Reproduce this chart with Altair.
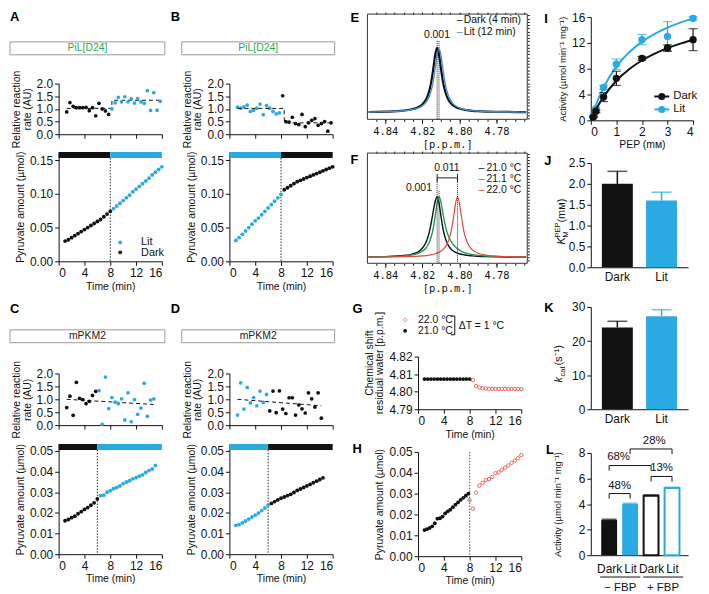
import altair as alt
import pandas as pd

FONT = "Liberation Sans"
MONO = "DejaVu Sans Mono"
BLACK = "#111111"
BLUE = "#2aaae2"
GREEN_TXT = "#33a852"
LIT_LINE = "#4d8fd6"
F_GREEN = "#1f9a57"
F_RED = "#e4463d"
G_RED = "#e85a52"
ONE = pd.DataFrame({"k": [0]})

# ================= DATA =================
R_1_8 = [1.25, 1.75, 2.25, 2.75, 3.25, 3.75, 4.25, 4.75, 5.25, 5.75, 6.25, 6.75, 7.25, 7.75]
R_8_16 = [8.25, 8.75, 9.25, 9.75, 10.25, 10.75, 11.25, 11.75, 12.25, 12.75, 13.25, 13.75, 14.25, 14.75, 15.25, 15.75]
R_1_6 = [1.25, 1.75, 2.25, 2.75, 3.25, 3.75, 4.25, 4.75, 5.25, 5.75]
R_6_15 = [6.25, 6.75, 7.25, 7.75, 8.25, 8.75, 9.25, 9.75, 10.25, 10.75, 11.25, 11.75, 12.25, 12.75, 13.25, 13.75, 14.25, 14.75]
R_6_14 = [6.25, 6.75, 7.25, 7.75, 8.25, 8.75, 9.25, 9.75, 10.25, 10.75, 11.25, 11.75, 12.25, 12.75, 13.25, 13.75, 14.25]
T_1_8 = [1.0, 1.5, 2.0, 2.5, 3.0, 3.5, 4.0, 4.5, 5.0, 5.5, 6.0, 6.5, 7.0, 7.5, 8.0]
T_8_16 = [8.5, 9.0, 9.5, 10.0, 10.5, 11.0, 11.5, 12.0, 12.5, 13.0, 13.5, 14.0, 14.5, 15.0, 15.5, 16.0]
T_1_6 = [1.0, 1.5, 2.0, 2.5, 3.0, 3.5, 4.0, 4.5, 5.0, 5.5, 6.0]
T_6_15 = [6.5, 7.0, 7.5, 8.0, 8.5, 9.0, 9.5, 10.0, 10.5, 11.0, 11.5, 12.0, 12.5, 13.0, 13.5, 14.0, 14.5, 15.0]
T_6_14 = [6.5, 7.0, 7.5, 8.0, 8.5, 9.0, 9.5, 10.0, 10.5, 11.0, 11.5, 12.0, 12.5, 13.0, 13.5, 14.0, 14.5]

# A : PiL[D24], dark then lit
a_rate_dark = [0.88, 1.25, 1.10, 1.05, 1.05, 1.05, 1.06, 0.93, 1.05, 0.73, 1.22, 1.00, 0.92, 0.78]
a_rate_lit = [1.00, 1.24, 1.46, 1.28, 1.48, 1.28, 1.40, 1.23, 1.41, 1.28, 1.22, 1.72, 0.94, 1.64, 0.95, 1.30]
a_fit_t = [1.25, 8.25, 8.25, 16.0]
a_fit_v = [1.02, 1.02, 1.34, 1.34]
a_pyr_dark = [0.030, 0.032, 0.035, 0.038, 0.041, 0.044, 0.047, 0.050, 0.053, 0.056, 0.059, 0.062, 0.066, 0.070, 0.074]
a_pyr_lit = [0.078, 0.082, 0.086, 0.090, 0.094, 0.098, 0.103, 0.107, 0.111, 0.115, 0.119, 0.123, 0.128, 0.132, 0.136, 0.140]
# B : PiL[D24], lit then dark
b_rate_lit = [1.07, 1.03, 1.08, 1.15, 0.90, 0.94, 1.03, 1.19, 0.77, 1.13, 1.03, 0.90, 0.80, 0.84]
b_rate_dark = [1.52, 0.50, 0.48, 0.67, 0.42, 0.38, 0.78, 0.30, 0.45, 0.55, 0.62, 0.35, 0.42, 0.50, 0.12, 0.45]
b_fit_t = [1.25, 8.5, 8.5, 16.0]
b_fit_v = [1.02, 1.02, 0.45, 0.45]
b_pyr_lit = [0.031, 0.035, 0.040, 0.045, 0.050, 0.055, 0.060, 0.064, 0.069, 0.074, 0.079, 0.084, 0.089, 0.094, 0.099]
b_pyr_dark = [0.106, 0.109, 0.112, 0.115, 0.118, 0.120, 0.122, 0.124, 0.126, 0.128, 0.130, 0.132, 0.134, 0.136, 0.138, 0.140]
# C : mPKM2, dark then lit
c_rate_dark = [0.68, 1.12, 0.38, 1.66, 1.04, 0.99, 0.83, 0.92, 1.15, 1.31]
c_rate_lit = [1.34, 0.03, 1.86, 0.64, 1.07, 0.89, 0.83, 1.02, 0.20, 1.25, 0.13, 0.99, 0.42, 0.66, 1.62, 0.34, 0.97, 1.02]
c_fit_t = [1.25, 14.75]
c_fit_v = [1.0, 0.8]
c_pyr_dark = [0.0162, 0.0168, 0.0177, 0.0184, 0.0196, 0.0206, 0.0217, 0.0226, 0.0237, 0.0249, 0.0268]
c_pyr_lit = [0.0284, 0.0286, 0.0300, 0.0308, 0.0317, 0.0323, 0.0331, 0.0342, 0.0350, 0.0356, 0.0365, 0.0371, 0.0378, 0.0384, 0.0396, 0.0405, 0.0413, 0.0430]
# D : mPKM2, lit then dark
d_rate_lit = [0.39, 1.64, 0.62, 1.46, 0.86, 1.07, 0.75, 1.32, 0.88, 1.19]
d_rate_dark = [0.55, 1.32, 0.48, 1.33, 0.62, 0.45, 1.06, 1.06, 0.39, 0.78, 0.63, 0.47, 1.25, 1.02, 0.70, 1.25, 0.27]
d_fit_t = [1.25, 14.25]
d_fit_v = [1.0, 0.75]
d_pyr_lit = [0.0140, 0.0143, 0.0152, 0.0161, 0.0170, 0.0180, 0.0189, 0.0199, 0.0211, 0.0224, 0.0238]
d_pyr_dark = [0.0246, 0.0255, 0.0263, 0.0271, 0.0277, 0.0284, 0.0290, 0.0299, 0.0309, 0.0316, 0.0323, 0.0331, 0.0338, 0.0346, 0.0354, 0.0362, 0.0370]

# E / F : NMR spectra of residual water
ppm = [4.849, 4.840, 4.830, 4.825, 4.822, 4.820, 4.818, 4.817, 4.816, 4.815, 4.814, 4.813,
       4.812, 4.811, 4.810, 4.809, 4.808, 4.807, 4.806, 4.805, 4.804, 4.803, 4.802, 4.801,
       4.800, 4.799, 4.798, 4.797, 4.796, 4.795, 4.793, 4.790, 4.785, 4.780, 4.770, 4.764]
e_dark = [0.006, 0.011, 0.027, 0.051, 0.083, 0.123, 0.200, 0.265, 0.360, 0.500, 0.692, 0.900,
          1.000, 0.900, 0.692, 0.500, 0.360, 0.265, 0.200, 0.155, 0.123, 0.100, 0.083, 0.069,
          0.059, 0.051, 0.044, 0.038, 0.034, 0.030, 0.024, 0.018, 0.012, 0.009, 0.005, 0.004]
e_lit = [0.006, 0.011, 0.024, 0.044, 0.069, 0.100, 0.155, 0.200, 0.265, 0.360, 0.500, 0.692,
         0.900, 0.980, 0.900, 0.692, 0.500, 0.360, 0.265, 0.200, 0.155, 0.123, 0.100, 0.083,
         0.069, 0.059, 0.051, 0.044, 0.038, 0.034, 0.027, 0.020, 0.013, 0.009, 0.005, 0.004]
f_210 = [0.006, 0.012, 0.030, 0.058, 0.095, 0.150, 0.250, 0.330, 0.450, 0.600, 0.780, 0.930,
         1.000, 0.900, 0.692, 0.500, 0.360, 0.265, 0.200, 0.155, 0.123, 0.100, 0.083, 0.069,
         0.059, 0.051, 0.044, 0.038, 0.034, 0.030, 0.024, 0.018, 0.012, 0.009, 0.005, 0.004]
f_211 = [0.006, 0.011, 0.024, 0.044, 0.069, 0.100, 0.155, 0.200, 0.265, 0.360, 0.500, 0.692,
         0.900, 1.000, 0.920, 0.750, 0.580, 0.450, 0.360, 0.290, 0.240, 0.200, 0.170, 0.140,
         0.120, 0.100, 0.085, 0.075, 0.065, 0.057, 0.045, 0.033, 0.022, 0.016, 0.010, 0.008]
f_220 = [0.004, 0.006, 0.011, 0.015, 0.020, 0.024, 0.030, 0.034, 0.038, 0.044, 0.051, 0.059,
         0.069, 0.083, 0.100, 0.123, 0.155, 0.200, 0.265, 0.360, 0.500, 0.692, 0.900, 1.000,
         0.900, 0.692, 0.500, 0.360, 0.265, 0.200, 0.123, 0.069, 0.034, 0.020, 0.009, 0.007]

# G : chemical shift of residual water
g_t_21 = [1.0, 1.5, 2.0, 2.5, 3.0, 3.5, 4.0, 4.5, 5.0, 5.5, 6.0, 6.5, 7.0, 7.5, 8.0]
g_21 = [4.8072] * 15
g_t_22 = [8.5, 9.0, 9.5, 10.0, 10.5, 11.0, 11.5, 12.0, 12.5, 13.0, 13.5, 14.0, 14.5, 15.0, 15.5, 16.0]
g_22 = [4.8066, 4.8032, 4.8024, 4.8020, 4.8018, 4.8017, 4.8016, 4.8016, 4.8015, 4.8015,
        4.8015, 4.8015, 4.8015, 4.8015, 4.8015, 4.8015]
# H : pyruvate with temperature jump
h_t_21 = [1.0, 1.4, 1.8, 2.2, 2.6, 3.0, 3.4, 3.8, 4.2, 4.6, 5.0, 5.4, 5.8, 6.2, 6.6, 7.0, 7.4, 7.8]
h_21 = [0.0125, 0.0130, 0.0135, 0.0143, 0.0158, 0.0180, 0.0182, 0.0190, 0.0205, 0.0215, 0.0223,
        0.0235, 0.0247, 0.0258, 0.0270, 0.0280, 0.0290, 0.0300]
h_t_22 = [8.0, 8.5, 9.0, 9.5, 10.0, 10.5, 11.0, 11.5, 12.0, 12.5, 13.0, 13.5, 14.0, 14.5, 15.0, 15.5, 16.0]
h_22 = [0.0268, 0.0228, 0.0305, 0.0338, 0.0352, 0.0365, 0.0370, 0.0380, 0.0398, 0.0402, 0.0415,
        0.0425, 0.0435, 0.0448, 0.0458, 0.0470, 0.0485]

# I : Michaelis-Menten
i_pep = [0.1, 0.2, 0.5, 1.0, 2.0, 3.0, 4.0]
i_dark = [0.5, 1.4, 3.6, 6.5, 9.6, 11.2, 12.5]
i_dark_err = [0.1, 0.2, 0.7, 1.1, 0.3, 0.5, 1.7]
i_lit = [0.7, 1.8, 5.1, 8.7, 12.5, 13.0, 15.8]
i_lit_err = [0.1, 0.2, 0.3, 0.8, 0.8, 2.3, 0.3]
fit_pep = [0.0, 0.25, 0.5, 1.0, 1.5, 2.0, 2.5, 3.0, 3.5, 4.0]
fit_dark = [0.0, 2.02, 3.65, 6.13, 7.92, 9.27, 10.33, 11.18, 11.88, 12.46]
fit_lit = [0.0, 2.88, 5.11, 8.33, 10.55, 12.16, 13.39, 14.36, 15.14, 15.79]
# J, K
cond = ["Dark", "Lit"]
km_val = [2.0, 1.6]
km_err = [0.3, 0.2]
kcat_val = [24.0, 27.3]
kcat_err = [1.8, 1.9]
# L
l_pos = [1, 2, 3, 4]
l_cond = ["Dark", "Lit", "Dark", "Lit"]
l_fbp = ["-", "-", "+", "+"]
l_val = [2.75, 4.0, 4.65, 5.25]
l_err = [0.06, 0.06, 0.07, 0.06]
l_br_x0 = [1, 1, 3, 2]
l_br_x1 = [2, 3, 4, 4]
l_br_y = [4.82, 7.01, 6.16, 8.31]
l_br_txt = ["48%", "68%", "13%", "28%"]
l_br_tx = [1.5, 1.45, 3.5, 3.15]
l_br_ty = [5.38, 7.7, 6.83, 8.95]

# ================= HELPERS =================
def bounds(col, ext, px, py):
    return alt.Chart(ONE).mark_rect(opacity=0, fill="white").encode(
        x=alt.value(col[0] - px), x2=alt.value(col[1] - px),
        y=alt.value(ext[0] - py), y2=alt.value(ext[1] - py))


def label(s, x, y, size=11, color="#111", align="left", baseline="middle",
          weight="normal", angle=None, font=FONT, style="normal"):
    kw = dict(text=s, align=align, baseline=baseline, fontSize=size, color=color,
              fontWeight=weight, font=font, fontStyle=style)
    if angle is not None:
        kw["angle"] = angle
    return alt.Chart(ONE).mark_text(**kw).encode(x=alt.value(x), y=alt.value(y))


def outline(x0, x1, y0, y1, color="#9a9a9a", width=1):
    return alt.Chart(ONE).mark_rect(fill="white", fillOpacity=0, stroke=color, strokeWidth=width).encode(
        x=alt.value(x0), x2=alt.value(x1), y=alt.value(y0), y2=alt.value(y1))


def hline(x0, x1, y, color="#111", width=1):
    return alt.Chart(ONE).mark_rule(color=color, strokeWidth=width).encode(
        x=alt.value(x0), x2=alt.value(x1), y=alt.value(y))


def vline(x, y0, y1, color="#111", width=1):
    return alt.Chart(ONE).mark_rule(color=color, strokeWidth=width).encode(
        x=alt.value(x), y=alt.value(y0), y2=alt.value(y1))


def dot(x, y, color, size=15):
    return alt.Chart(ONE).mark_circle(color=color, size=size, opacity=1).encode(
        x=alt.value(x), y=alt.value(y))


def letter(s, x, y):
    return label(s, x, y, size=13, weight="bold", color="#000")


def spacer(col, px, W):
    return alt.layer(bounds(col, (8, 9), px, 8)).properties(width=W, height=1)


def indep(layer):
    return layer.resolve_axis(x="independent", y="independent")


COL1, COL2, COL3, COL4 = (8, 170), (170, 345), (345, 540), (540, 705)
TIME_TICKS = [0, 4, 8, 12, 16]


def rate_panel(px, py, col, ext, H, let, box, box_text, box_color,
               t1, v1, c1, t2, v2, c2, ft, fv):
    xs = alt.Scale(domain=[0, 16], nice=False, zero=False)
    ys = alt.Scale(domain=[0, 2], nice=False, zero=False)
    d1 = pd.DataFrame({"t": t1, "v": v1})
    d2 = pd.DataFrame({"t": t2, "v": v2})
    dfit = pd.DataFrame({"t": ft, "v": fv, "i": list(range(len(ft)))})
    p1 = alt.Chart(d1).mark_circle(size=14, opacity=1, color=c1).encode(
        x=alt.X("t:Q", scale=xs, axis=alt.Axis(values=TIME_TICKS, labels=False, title=None)),
        y=alt.Y("v:Q", scale=ys, axis=alt.Axis(values=[0, 0.5, 1, 1.5, 2], format=".1f",
                                                title=["Relative reaction", "rate (AU)"],
                                                titleLineHeight=11, titlePadding=4)))
    p2 = alt.Chart(d2).mark_circle(size=14, opacity=1, color=c2).encode(
        x=alt.X("t:Q", scale=xs, axis=None), y=alt.Y("v:Q", scale=ys, axis=None))
    fit = alt.Chart(dfit).mark_line(color=BLACK, strokeDash=[4, 3], strokeWidth=1).encode(
        x=alt.X("t:Q", scale=xs, axis=None), y=alt.Y("v:Q", scale=ys, axis=None),
        order=alt.Order("i:Q"))
    bx0, bx1, by0, by1 = box[0] - px, box[1] - px, box[2] - py, box[3] - py
    layers = [bounds(col, ext, px, py), p1, fit, p2,
              letter(let, col[0] - px + 2, 12 - py if py < 200 else 306 - py),
              outline(bx0, bx1, by0, by1),
              label(box_text, (bx0 + bx1) / 2, (by0 + by1) / 2, size=10.5, color=box_color, align="center")]
    return indep(alt.layer(*layers)).properties(width=104, height=H)


def pyr_panel(px, py, col, ext, H, ymax, yvals, switch, bars,
              t1, v1, c1, t2, v2, c2, legend=False):
    xs = alt.Scale(domain=[0, 16], nice=False, zero=False)
    ys = alt.Scale(domain=[0, ymax], nice=False, zero=False)
    dbar = pd.DataFrame(bars, columns=["t0", "t1", "cond"])
    bar = alt.Chart(dbar).mark_rect().encode(
        x=alt.X("t0:Q", scale=xs, axis=alt.Axis(values=TIME_TICKS, title="Time (min)", titlePadding=3)),
        x2="t1:Q", y=alt.value(0), y2=alt.value(6),
        color=alt.Color("cond:N", scale=alt.Scale(domain=["Dark", "Lit"], range=[BLACK, BLUE]), legend=None))
    rule = alt.Chart(pd.DataFrame({"s": [switch]})).mark_rule(
        color=BLACK, strokeDash=[1.5, 1.5], strokeWidth=0.9).encode(
        x=alt.X("s:Q", scale=xs, axis=None), y=alt.value(6), y2=alt.value(H))
    d1 = pd.DataFrame({"t": t1, "v": v1})
    d2 = pd.DataFrame({"t": t2, "v": v2})
    p1 = alt.Chart(d1).mark_circle(size=15, opacity=1, color=c1).encode(
        x=alt.X("t:Q", scale=xs, axis=None),
        y=alt.Y("v:Q", scale=ys, axis=alt.Axis(values=yvals, format=".2f",
                                                title="Pyruvate amount (µmol)", titlePadding=4)))
    p2 = alt.Chart(d2).mark_circle(size=15, opacity=1, color=c2).encode(
        x=alt.X("t:Q", scale=xs, axis=None), y=alt.Y("v:Q", scale=ys, axis=None))
    layers = [bounds(col, ext, px, py), bar, rule, p1, p2]
    if legend:
        layers += [dot(62, 91, BLUE), label("Lit", 83, 91, size=11),
                   dot(62, 101, BLACK), label("Dark", 83, 102, size=11)]
    return indep(alt.layer(*layers)).properties(width=104, height=H)


# ================= COLUMN 1 & 2 =================
a_top = rate_panel(59, 79, COL1, (9, 145), 51, "A", (10, 166, 37, 50), "PiL[D24]", GREEN_TXT,
                   R_1_8, a_rate_dark, BLACK, R_8_16, a_rate_lit, BLUE, a_fit_t, a_fit_v)
a_bot = pyr_panel(59, 148, COL1, (145, 296), 110, 0.1618, [0, 0.05, 0.10, 0.15], 8,
                  [(0, 8, "Dark"), (8, 16, "Lit")],
                  T_1_8, a_pyr_dark, BLACK, T_8_16, a_pyr_lit, BLUE, legend=True)
c_top = rate_panel(59, 371, COL1, (296, 438), 52, "C", (10, 166, 327, 340), "mPKM2", "#222",
                   R_1_6, c_rate_dark, BLACK, R_6_15, c_rate_lit, BLUE, c_fit_t, c_fit_v)
c_bot = pyr_panel(59, 442, COL1, (438, 594), 111, 0.0534, [0, 0.01, 0.02, 0.03, 0.04, 0.05], 6,
                  [(0, 6, "Dark"), (6, 16, "Lit")],
                  T_1_6, c_pyr_dark, BLACK, T_6_15, c_pyr_lit, BLUE)

b_top = rate_panel(231, 79, COL2, (9, 145), 51, "B", (183, 337, 37, 50), "PiL[D24]", GREEN_TXT,
                   R_1_8, b_rate_lit, BLUE, R_8_16, b_rate_dark, BLACK, b_fit_t, b_fit_v)
b_bot = pyr_panel(231, 148, COL2, (145, 296), 110, 0.1618, [0, 0.05, 0.10, 0.15], 8,
                  [(0, 8, "Lit"), (8, 16, "Dark")],
                  T_1_8, b_pyr_lit, BLUE, T_8_16, b_pyr_dark, BLACK)
d_top = rate_panel(231, 371, COL2, (296, 438), 52, "D", (183, 337, 327, 340), "mPKM2", "#222",
                   R_1_6, d_rate_lit, BLUE, R_6_14, d_rate_dark, BLACK, d_fit_t, d_fit_v)
d_bot = pyr_panel(231, 442, COL2, (438, 594), 111, 0.0534, [0, 0.01, 0.02, 0.03, 0.04, 0.05], 6,
                  [(0, 6, "Lit"), (6, 16, "Dark")],
                  T_1_6, d_pyr_lit, BLUE, T_6_14, d_pyr_dark, BLACK)

# ================= COLUMN 3 =================
SX = alt.Scale(domain=[4.7634, 4.8496], reverse=True, nice=False, zero=False)


def spec_panel(px, py, ext, H, ydom, curves, extra):
    ys = alt.Scale(domain=ydom, nice=False, zero=False)
    base = pd.DataFrame({"ppm": ppm, "i": curves[0][0]})
    ax_main = alt.Chart(base).mark_line(opacity=0).encode(
        x=alt.X("ppm:Q", scale=SX, axis=alt.Axis(orient="bottom", values=[4.84, 4.82, 4.80, 4.78],
                                                 format=".2f", title="[p.p.m.]", labelFont=MONO,
                                                 titleFont=MONO, labelFontSize=10.5, titleFontSize=10.5,
                                                 domain=False, tickSize=4, labelPadding=3, titlePadding=3)),
        y=alt.Y("i:Q", scale=ys, axis=alt.Axis(orient="right", labels=False, title=None,
                                               tickCount=30, tickSize=2, domain=False)))
    ax_top = alt.Chart(base).mark_line(opacity=0).encode(
        x=alt.X("ppm:Q", scale=SX, axis=alt.Axis(orient="top", labels=False, title=None,
                                                 tickCount=18, tickSize=2, domain=False)),
        y=alt.Y("i:Q", scale=ys, axis=None))
    ax_min = alt.Chart(base).mark_line(opacity=0).encode(
        x=alt.X("ppm:Q", scale=SX, axis=alt.Axis(orient="bottom", labels=False, title=None,
                                                 tickCount=18, tickSize=2, domain=False)),
        y=alt.Y("i:Q", scale=ys, axis=None))
    lines = []
    for vals, color, width in curves:
        lines.append(alt.Chart(pd.DataFrame({"ppm": ppm, "i": vals})).mark_line(
            color=color, strokeWidth=width, interpolate="monotone", clip=True).encode(
            x=alt.X("ppm:Q", scale=SX, axis=None), y=alt.Y("i:Q", scale=ys, axis=None)))
    layers = [bounds(COL3, ext, px, py), ax_main, ax_top, ax_min] + lines + extra + \
             [outline(0, 161, 0, H, color="#333")]
    return indep(alt.layer(*layers)).properties(width=161, height=H)


def dotted(vals, y0, y1):
    return alt.Chart(pd.DataFrame({"p": vals})).mark_rule(
        color="#222", strokeDash=[1, 1], strokeWidth=1).encode(
        x=alt.X("p:Q", scale=SX, axis=None), y=alt.value(y0), y2=alt.value(y1))


e_extra = [dotted([4.812, 4.811], 27, 106),
           label("0.001", 70, 21, size=10.5, align="center"),
           label("–", 90, 6, size=10.5, color=BLACK), label("Dark (4 min)", 97, 6, size=10.5),
           label("–", 90, 18, size=10.5, color=LIT_LINE), label("Lit (12 min)", 97, 18, size=10.5),
           letter("E", -17, 4)]
e_chart = spec_panel(370, 9, (9, 145), 106, [-0.108, 1.522],
                     [(e_dark, BLACK, 2.2), (e_lit, LIT_LINE, 1.4)], e_extra)

f_br = pd.DataFrame({"a": [4.812], "b": [4.801]})
f_extra = [dotted([4.812, 4.801], 25, 111), dotted([4.811], 38, 111),
           alt.Chart(f_br).mark_rule(color="#222", strokeWidth=1).encode(
               x=alt.X("a:Q", scale=SX, axis=None), x2="b:Q", y=alt.value(25)),
           alt.Chart(pd.DataFrame({"p": [4.812, 4.801]})).mark_rule(color="#222", strokeWidth=1).encode(
               x=alt.X("p:Q", scale=SX, axis=None), y=alt.value(21), y2=alt.value(29)),
           label("0.011", 80, 15, size=10.5, align="center"),
           label("0.001", 65, 35, size=10.5, align="right"),
           label("–", 112, 15, size=10.5, color=BLACK), label("21.0 °C", 120, 15, size=10.5),
           label("–", 112, 26, size=10.5, color=F_GREEN), label("21.1 °C", 120, 26, size=10.5),
           label("–", 112, 37, size=10.5, color=F_RED), label("22.0 °C", 120, 37, size=10.5),
           letter("F", -17, 7)]
f_chart = spec_panel(370, 148, (145, 296), 111, [-0.098, 1.721],
                     [(f_210, BLACK, 1.4), (f_211, F_GREEN, 1.4), (f_220, F_RED, 1.2)], f_extra)

GX = alt.Scale(domain=[0, 16], range=[51, 155], nice=False, zero=False)
gys = alt.Scale(domain=[4.79, 4.82], nice=False, zero=False)
g_chart = indep(alt.layer(
    bounds(COL3, (296, 440), 370, 353),
    alt.Chart(pd.DataFrame({"t": g_t_21, "v": g_21})).mark_circle(size=15, opacity=1, color=BLACK).encode(
        x=alt.X("t:Q", scale=GX, axis=alt.Axis(values=TIME_TICKS, title="Time (min)", titleX=103, titlePadding=3)),
        y=alt.Y("v:Q", scale=gys, axis=alt.Axis(values=[4.79, 4.80, 4.81, 4.82], format=".2f", offset=-51,
                                                 title=["Chemical shift", "residual water [p.p.m.]"],
                                                 titleLineHeight=11, titlePadding=4, titleY=6))),
    alt.Chart(pd.DataFrame({"t": g_t_22, "v": g_22})).mark_point(
        shape="circle", filled=False, size=12, color=G_RED, strokeWidth=0.9, opacity=1).encode(
        x=alt.X("t:Q", scale=GX, axis=None), y=alt.Y("v:Q", scale=gys, axis=None)),
    alt.Chart(ONE).mark_point(shape="circle", filled=False, size=12, color=G_RED, strokeWidth=0.9).encode(
        x=alt.value(38), y=alt.value(-37)),
    label("22.0 °C", 51, -37, size=10.5), dot(38, -26, BLACK), label("21.0 °C", 51, -26, size=10.5),
    vline(88, -41, -22), hline(84, 88, -41), hline(84, 88, -22),
    label("ΔT = 1 °C", 92, -31, size=10.5),
    letter("G", -15, -48),
)).properties(width=161, height=53)

hys = alt.Scale(domain=[0, 0.05], nice=False, zero=False)
h_chart = indep(alt.layer(
    bounds(COL3, (440, 594), 370, 449),
    alt.Chart(pd.DataFrame({"s": [8]})).mark_rule(color="#444", strokeDash=[1.5, 1.5], strokeWidth=0.9).encode(
        x=alt.X("s:Q", scale=GX, axis=None), y=alt.value(0), y2=alt.value(105)),
    alt.Chart(pd.DataFrame({"t": h_t_21, "v": h_21})).mark_circle(size=15, opacity=1, color=BLACK).encode(
        x=alt.X("t:Q", scale=GX, axis=alt.Axis(values=TIME_TICKS, title="Time (min)", titleX=103, titlePadding=3)),
        y=alt.Y("v:Q", scale=hys, axis=alt.Axis(values=[0, 0.01, 0.02, 0.03, 0.04, 0.05], format=".2f",
                                                 offset=-51, title="Pyruvate amount (µmol)", titlePadding=4))),
    alt.Chart(pd.DataFrame({"t": h_t_22, "v": h_22})).mark_point(
        shape="circle", filled=False, size=12, color=G_RED, strokeWidth=0.9, opacity=1).encode(
        x=alt.X("t:Q", scale=GX, axis=None), y=alt.Y("v:Q", scale=hys, axis=None)),
    letter("H", -15, -3),
)).properties(width=161, height=105)

# ================= COLUMN 4 =================
ixs = alt.Scale(domain=[0, 4], nice=False, zero=False)
iys = alt.Scale(domain=[0, 16], nice=False, zero=False)


def mm_layers(v, err, fit, color, with_axes):
    d = pd.DataFrame({"x": i_pep, "v": v, "lo": [a - b for a, b in zip(v, err)],
                      "hi": [a + b for a, b in zip(v, err)]})
    df = pd.DataFrame({"x": fit_pep, "v": fit})
    xa = alt.Axis(values=[0, 1, 2, 3, 4], title="PEP (mᴍ)", titlePadding=2) if with_axes else None
    ya = alt.Axis(values=[0, 4, 8, 12, 16], title="Activity (µmol min⁻¹ mg⁻¹)",
                  titlePadding=4, titleFontSize=9.5) if with_axes else None
    curve = alt.Chart(df).mark_line(color=color, strokeWidth=2, interpolate="monotone").encode(
        x=alt.X("x:Q", scale=ixs, axis=xa), y=alt.Y("v:Q", scale=iys, axis=ya))
    eb = alt.Chart(d).mark_rule(color=color, strokeWidth=1.2).encode(
        x=alt.X("x:Q", scale=ixs, axis=None), y=alt.Y("lo:Q", scale=iys, axis=None), y2="hi:Q")
    cap_hi = alt.Chart(d).mark_tick(color=color, orient="horizontal", size=9, thickness=1.2).encode(
        x=alt.X("x:Q", scale=ixs, axis=None), y=alt.Y("hi:Q", scale=iys, axis=None))
    cap_lo = alt.Chart(d).mark_tick(color=color, orient="horizontal", size=9, thickness=1.2).encode(
        x=alt.X("x:Q", scale=ixs, axis=None), y=alt.Y("lo:Q", scale=iys, axis=None))
    pts = alt.Chart(d).mark_circle(color=color, size=55, opacity=1).encode(
        x=alt.X("x:Q", scale=ixs, axis=None), y=alt.Y("v:Q", scale=iys, axis=None))
    return [curve, eb, cap_hi, cap_lo, pts]


i_chart = indep(alt.layer(
    bounds(COL4, (9, 148), 594, 10),
    *mm_layers(i_lit, i_lit_err, fit_lit, BLUE, True),
    *mm_layers(i_dark, i_dark_err, fit_dark, BLACK, False),
    hline(64, 79, 80, BLACK, 2), dot(71.5, 80, BLACK, 50), label("Dark", 83, 80, size=11.5),
    hline(64, 79, 93, BLUE, 2), dot(71.5, 93, BLUE, 50), label("Lit", 83, 93, size=11.5),
    letter("I", -47, 2),
)).properties(width=103, height=104)

JX = alt.Scale(domain=cond, paddingInner=0.3, paddingOuter=0.25)


def bar_panel(py, ext, H, vals, errs, ymax, yvals, yfmt, title_layers, let):
    ys = alt.Scale(domain=[0, ymax], nice=False, zero=False)
    d = pd.DataFrame({"c": cond, "v": vals, "hi": [a + b for a, b in zip(vals, errs)]})
    colr = alt.Color("c:N", scale=alt.Scale(domain=cond, range=[BLACK, BLUE]), legend=None)
    bars = alt.Chart(d).mark_bar().encode(
        x=alt.X("c:N", scale=JX, axis=alt.Axis(title=None, ticks=False, labelAngle=0, labelPadding=4)),
        y=alt.Y("v:Q", scale=ys, axis=alt.Axis(values=yvals, format=yfmt, title=None)),
        color=colr)
    eb = alt.Chart(d).mark_rule(strokeWidth=1.5).encode(
        x=alt.X("c:N", scale=JX, axis=None), y=alt.Y("v:Q", scale=ys, axis=None), y2="hi:Q", color=colr)
    cap = alt.Chart(d).mark_tick(orient="horizontal", size=20, thickness=1.5).encode(
        x=alt.X("c:N", scale=JX, axis=None), y=alt.Y("hi:Q", scale=ys, axis=None), color=colr)
    return indep(alt.layer(bounds(COL4, ext, 595, py), bars, eb, cap, *title_layers,
                           letter(let, -47, -2 if let == "J" else 1))).properties(width=98, height=H)


j_title = [label("K", -26, 82, size=11, style="italic", angle=270, baseline="alphabetic"),
           label("M", -22.5, 75, size=7.5, angle=270, baseline="alphabetic"),
           label("PEP", -31, 75, size=7.5, angle=270, baseline="alphabetic"),
           label(" (mᴍ)", -26, 60, size=11, angle=270, baseline="alphabetic")]
j_chart = bar_panel(157, (148, 290), 105, km_val, km_err, 2.5, [0, 0.5, 1.0, 1.5, 2.0, 2.5], ".1f",
                    j_title, "J")
k_title = [label("k", -29, 76, size=11, style="italic", angle=270, baseline="alphabetic"),
           label("cat", -26, 70, size=7.5, angle=270, baseline="alphabetic"),
           label(" (s⁻¹)", -29, 59, size=11, angle=270, baseline="alphabetic")]
k_chart = bar_panel(302, (290, 430), 103, kcat_val, kcat_err, 30, [0, 10, 20, 30], "d",
                    k_title, "K")

lxs = alt.Scale(domain=[0.36, 4.53], nice=False, zero=False)
lys = alt.Scale(domain=[0, 8], nice=False, zero=False)
ld = pd.DataFrame({"x": l_pos, "v": l_val, "hi": [a + b for a, b in zip(l_val, l_err)],
                   "cond": l_cond, "fbp": l_fbp})
l_fill_scale = alt.Scale(domain=["Dark", "Lit"], range=[BLACK, BLUE])
l_bars_filled = alt.Chart(ld[ld.fbp == "-"]).mark_bar(orient="vertical", size=16).encode(
    x=alt.X("x:Q", scale=lxs, axis=alt.Axis(values=[1, 2, 3, 4], ticks=False, title=None, labelPadding=8,
                                            labelExpr="datum.value % 2 == 1 ? 'Dark' : 'Lit'")),
    y=alt.Y("v:Q", scale=lys, axis=alt.Axis(values=[0, 2, 4, 6, 8], title="Activity (µmol min⁻¹ mg⁻¹)",
                                             titlePadding=16, titleFontSize=9.5)),
    color=alt.Color("cond:N", scale=l_fill_scale, legend=None))
l_bars_open = alt.Chart(ld[ld.fbp == "+"]).mark_bar(orient="vertical", size=15, fill="white", strokeWidth=2).encode(
    x=alt.X("x:Q", scale=lxs, axis=None), y=alt.Y("v:Q", scale=lys, axis=None),
    stroke=alt.Stroke("cond:N", scale=l_fill_scale, legend=None))
l_eb = alt.Chart(ld).mark_tick(orient="horizontal", size=15, thickness=1.5).encode(
    x=alt.X("x:Q", scale=lxs, axis=None), y=alt.Y("hi:Q", scale=lys, axis=None),
    color=alt.Color("cond:N", scale=l_fill_scale, legend=None))
brd = pd.DataFrame({"x0": l_br_x0, "x1": l_br_x1, "y": l_br_y,
                    "yl": [v - 0.4 for v in l_br_y], "t": l_br_txt, "tx": l_br_tx, "ty": l_br_ty})
l_br_h = alt.Chart(brd).mark_rule(color=BLACK, strokeWidth=1).encode(
    x=alt.X("x0:Q", scale=lxs, axis=None), x2="x1:Q", y=alt.Y("y:Q", scale=lys, axis=None))
l_br_l = alt.Chart(brd).mark_rule(color=BLACK, strokeWidth=1).encode(
    x=alt.X("x0:Q", scale=lxs, axis=None), y=alt.Y("y:Q", scale=lys, axis=None), y2="yl:Q")
l_br_r = alt.Chart(brd).mark_rule(color=BLACK, strokeWidth=1).encode(
    x=alt.X("x1:Q", scale=lxs, axis=None), y=alt.Y("y:Q", scale=lys, axis=None), y2="yl:Q")
l_br_t = alt.Chart(brd).mark_text(font=FONT, fontSize=11.5, color="#111").encode(
    x=alt.X("tx:Q", scale=lxs, axis=None), y=alt.Y("ty:Q", scale=lys, axis=None), text="t:N")
fbp = pd.DataFrame({"x0": [0.57, 2.62], "x1": [2.49, 4.53], "xm": [1.53, 3.57], "lab": ["− FBP", "+ FBP"]})
l_fbp_line = alt.Chart(fbp).mark_rule(color=BLACK, strokeWidth=1).encode(
    x=alt.X("x0:Q", scale=lxs, axis=None), x2="x1:Q", y=alt.value(125))
l_fbp_txt = alt.Chart(fbp).mark_text(font=FONT, fontSize=11.5, color="#111").encode(
    x=alt.X("xm:Q", scale=lxs, axis=None), y=alt.value(136), text="lab:N")
l_chart = indep(alt.layer(
    bounds(COL4, (430, 594), 595, 449),
    l_bars_filled, l_bars_open, l_eb, l_br_h, l_br_l, l_br_r, l_br_t, l_fbp_line, l_fbp_txt,
    letter("L", -45, -3),
)).properties(width=98, height=103)

# ================= ASSEMBLY =================
col1 = alt.vconcat(spacer(COL1, 59, 104), a_top, a_bot, c_top, c_bot, spacing=0)
col2 = alt.vconcat(spacer(COL2, 231, 104), b_top, b_bot, d_top, d_bot, spacing=0)
col3 = alt.vconcat(spacer(COL3, 370, 161), e_chart, f_chart, g_chart, h_chart, spacing=0)
col4 = alt.vconcat(spacer(COL4, 594, 103), i_chart, j_chart, k_chart, l_chart, spacing=0)

chart = alt.hconcat(col1, col2, col3, col4, spacing=0).properties(
    padding=0, background="white"
).configure_axis(
    labelFont=FONT, titleFont=FONT, labelFontSize=12, titleFontSize=10.5,
    titleFontWeight="normal", labelColor="#111", titleColor="#111",
    domainColor="#111", tickColor="#111", tickSize=4, domainWidth=1, tickWidth=1,
    grid=False, labelPadding=2
).configure_view(strokeWidth=0)

chart.save("out.html", embed_options={"renderer": "svg", "actions": False})
